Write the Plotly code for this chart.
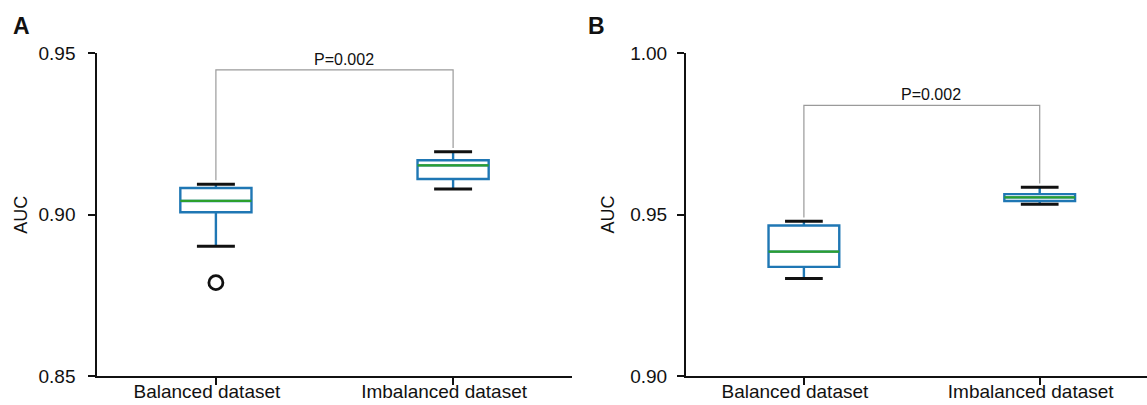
import plotly.graph_objects as go

# ---------------- data ----------------
categories = ["Balanced dataset", "Imbalanced dataset"]
positions = [1, 2]

# Panel A (AUC)
a_lower = [0.8902, 0.9079]
a_q1 = [0.9007, 0.9110]
a_median = [0.9042, 0.9152]
a_q3 = [0.9082, 0.9168]
a_upper = [0.9094, 0.9194]
a_outliers_x = [1]
a_outliers_y = [0.8789]
a_bracket_top = 0.9448
a_ticks = [0.85, 0.90, 0.95]
a_ticktext = ["0.85", "0.90", "0.95"]

# Panel B (AUC)
b_lower = [0.9302, 0.9532]
b_q1 = [0.9338, 0.9542]
b_median = [0.9385, 0.9553]
b_q3 = [0.9466, 0.9563]
b_upper = [0.9479, 0.9584]
b_bracket_top = 0.9838
b_ticks = [0.90, 0.95, 1.00]
b_ticktext = ["0.90", "0.95", "1.00"]

p_text = "P=0.002"

# ---------------- style ----------------
BLUE = "#1f77b4"
GREEN = "#2ca02c"
BLACK = "#111111"
GREY = "#9a9a9a"
FONT = "Liberation Sans, Arial, sans-serif"
BOX_W = 0.30
CAP_HALF = 0.08
LEG_GAP = 0.0012

fig = go.Figure()


def add_panel(xa, ya, lower, q1, med, q3, upper, btop, out_x=None, out_y=None):
    fig.add_trace(go.Box(
        x=positions, q1=q1, median=med, q3=q3, lowerfence=lower, upperfence=upper,
        width=BOX_W, whiskerwidth=0, fillcolor="rgba(0,0,0,0)",
        line=dict(color=BLUE, width=2.4), boxpoints=False,
        xaxis=xa, yaxis=ya, showlegend=False, hoverinfo="skip"))
    # medians
    mx, my = [], []
    for p, m in zip(positions, med):
        mx += [p - BOX_W / 2, p + BOX_W / 2, None]
        my += [m, m, None]
    fig.add_trace(go.Scatter(x=mx, y=my, mode="lines", line=dict(color=GREEN, width=2.3),
                             xaxis=xa, yaxis=ya, showlegend=False, hoverinfo="skip"))
    # caps
    cx, cy = [], []
    for p, lo, hi in zip(positions, lower, upper):
        cx += [p - CAP_HALF, p + CAP_HALF, None, p - CAP_HALF, p + CAP_HALF, None]
        cy += [lo, lo, None, hi, hi, None]
    fig.add_trace(go.Scatter(x=cx, y=cy, mode="lines", line=dict(color=BLACK, width=3),
                             xaxis=xa, yaxis=ya, showlegend=False, hoverinfo="skip"))
    # outliers
    if out_x:
        fig.add_trace(go.Scatter(x=out_x, y=out_y, mode="markers",
                                 marker=dict(symbol="circle-open", size=14, color=BLACK,
                                             line=dict(width=2.8, color=BLACK)),
                                 xaxis=xa, yaxis=ya, showlegend=False, hoverinfo="skip"))
    # significance bracket
    fig.add_trace(go.Scatter(
        x=[positions[0], positions[0], positions[1], positions[1]],
        y=[upper[0] + LEG_GAP, btop, btop, upper[1] + LEG_GAP],
        mode="lines", line=dict(color=GREY, width=1.2),
        xaxis=xa, yaxis=ya, showlegend=False, hoverinfo="skip"))
    fig.add_annotation(x=(positions[0] + positions[1]) / 2, y=btop,
                       xref=xa, yref=ya, text=p_text, showarrow=False,
                       yanchor="bottom", xanchor="center", xshift=9, yshift=0,
                       font=dict(family=FONT, size=16, color=BLACK))


add_panel("x", "y", a_lower, a_q1, a_median, a_q3, a_upper, a_bracket_top,
          a_outliers_x, a_outliers_y)
add_panel("x2", "y2", b_lower, b_q1, b_median, b_q3, b_upper, b_bracket_top)

W, H = 1147, 405
ydom = [1 - 376 / H, 1 - 53 / H]

axis_common = dict(showline=True, linecolor=BLACK, linewidth=2, ticks="outside",
                   ticklen=7, tickwidth=2, tickcolor=BLACK, showgrid=False,
                   zeroline=False, automargin=False,
                   tickfont=dict(family=FONT, size=19, color=BLACK))

fig.update_layout(
    width=W, height=H, margin=dict(l=0, r=0, t=0, b=0, autoexpand=False),
    paper_bgcolor="white", plot_bgcolor="white",
    xaxis=dict(domain=[97.3 / W, 571.7 / W], range=[0.5, 2.5],
               tickvals=positions, ticktext=categories, ticklabelshift=-9,
               ticklabelstandoff=-10, anchor="y", **axis_common),
    yaxis=dict(domain=ydom, range=[0.85, 0.95], tickvals=a_ticks, ticktext=a_ticktext,
               anchor="x", ticklabelstandoff=9, **axis_common),
    xaxis2=dict(domain=[686 / W, 1.0], range=[0.5, 2.455],
                tickvals=positions, ticktext=categories, ticklabelshift=-9,
                ticklabelstandoff=-10, anchor="y2", **axis_common),
    yaxis2=dict(domain=ydom, range=[0.90, 1.00], tickvals=b_ticks, ticktext=b_ticktext,
                anchor="x2", ticklabelstandoff=6, **axis_common),
)

# axis titles and panel letters
for xa, ya, shift in (("x", "y", -77), ("x2", "y2", -79)):
    fig.add_annotation(x=0, y=0.5, xref=f"{xa} domain", yref=f"{ya} domain",
                       text="AUC", showarrow=False, textangle=-90, xshift=shift,
                       xanchor="center", yanchor="middle",
                       font=dict(family=FONT, size=18, color=BLACK))

for letter, px in (("A", 21), ("B", 596)):
    fig.add_annotation(x=px / W, y=1 - 26 / H, xref="paper", yref="paper",
                       text=f"<b>{letter}</b>", showarrow=False,
                       xanchor="center", yanchor="middle",
                       font=dict(family=FONT, size=23, color=BLACK))

fig.write_html("out.html")
